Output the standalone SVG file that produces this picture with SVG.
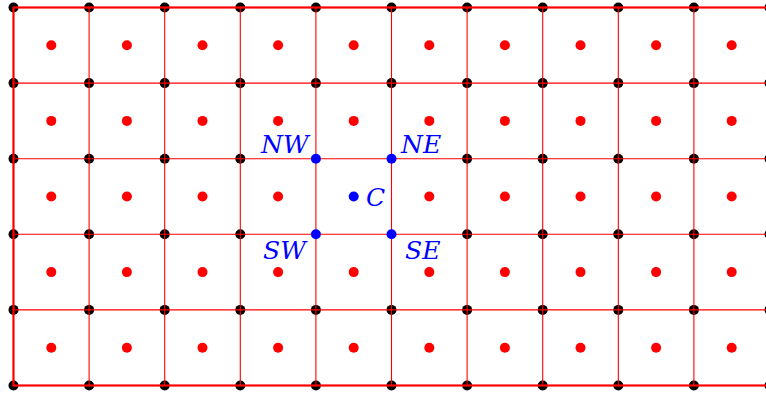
<svg xmlns="http://www.w3.org/2000/svg" width="766" height="395" viewBox="0 0 766 395">
<style>
.k{fill:#000}
.r{fill:#ff0000}
.b{fill:#0000ff}
.g{stroke:#ff0000;stroke-width:1.1;fill:none}
.bd{stroke:#ff0000;stroke-width:2.2;fill:none}
.lbl{font-family:"DejaVu Serif",serif;font-style:italic;font-size:25px;fill:#0000ff}
</style>
<defs>
<circle id="dot" r="5"/>
</defs>
<rect width="766" height="395" fill="#fff"/>
<g id="vertices">
<g id="row0"><use href="#dot" class="k" x="13.5" y="7.5"/><use href="#dot" class="k" x="89.1" y="7.5"/><use href="#dot" class="k" x="164.7" y="7.5"/><use href="#dot" class="k" x="240.3" y="7.5"/><use href="#dot" class="k" x="315.9" y="7.5"/><use href="#dot" class="k" x="391.5" y="7.5"/><use href="#dot" class="k" x="467.1" y="7.5"/><use href="#dot" class="k" x="542.7" y="7.5"/><use href="#dot" class="k" x="618.3" y="7.5"/><use href="#dot" class="k" x="693.9" y="7.5"/><use href="#dot" class="k" x="769.5" y="7.5"/></g>
<g id="row1"><use href="#dot" class="k" x="13.5" y="83.1"/><use href="#dot" class="k" x="89.1" y="83.1"/><use href="#dot" class="k" x="164.7" y="83.1"/><use href="#dot" class="k" x="240.3" y="83.1"/><use href="#dot" class="k" x="315.9" y="83.1"/><use href="#dot" class="k" x="391.5" y="83.1"/><use href="#dot" class="k" x="467.1" y="83.1"/><use href="#dot" class="k" x="542.7" y="83.1"/><use href="#dot" class="k" x="618.3" y="83.1"/><use href="#dot" class="k" x="693.9" y="83.1"/><use href="#dot" class="k" x="769.5" y="83.1"/></g>
<g id="row2"><use href="#dot" class="k" x="13.5" y="158.7"/><use href="#dot" class="k" x="89.1" y="158.7"/><use href="#dot" class="k" x="164.7" y="158.7"/><use href="#dot" class="k" x="240.3" y="158.7"/><use href="#dot" class="k" x="467.1" y="158.7"/><use href="#dot" class="k" x="542.7" y="158.7"/><use href="#dot" class="k" x="618.3" y="158.7"/><use href="#dot" class="k" x="693.9" y="158.7"/><use href="#dot" class="k" x="769.5" y="158.7"/></g>
<g id="row3"><use href="#dot" class="k" x="13.5" y="234.3"/><use href="#dot" class="k" x="89.1" y="234.3"/><use href="#dot" class="k" x="164.7" y="234.3"/><use href="#dot" class="k" x="240.3" y="234.3"/><use href="#dot" class="k" x="467.1" y="234.3"/><use href="#dot" class="k" x="542.7" y="234.3"/><use href="#dot" class="k" x="618.3" y="234.3"/><use href="#dot" class="k" x="693.9" y="234.3"/><use href="#dot" class="k" x="769.5" y="234.3"/></g>
<g id="row4"><use href="#dot" class="k" x="13.5" y="309.9"/><use href="#dot" class="k" x="89.1" y="309.9"/><use href="#dot" class="k" x="164.7" y="309.9"/><use href="#dot" class="k" x="240.3" y="309.9"/><use href="#dot" class="k" x="315.9" y="309.9"/><use href="#dot" class="k" x="391.5" y="309.9"/><use href="#dot" class="k" x="467.1" y="309.9"/><use href="#dot" class="k" x="542.7" y="309.9"/><use href="#dot" class="k" x="618.3" y="309.9"/><use href="#dot" class="k" x="693.9" y="309.9"/><use href="#dot" class="k" x="769.5" y="309.9"/></g>
<g id="row5"><use href="#dot" class="k" x="13.5" y="385.5"/><use href="#dot" class="k" x="89.1" y="385.5"/><use href="#dot" class="k" x="164.7" y="385.5"/><use href="#dot" class="k" x="240.3" y="385.5"/><use href="#dot" class="k" x="315.9" y="385.5"/><use href="#dot" class="k" x="391.5" y="385.5"/><use href="#dot" class="k" x="467.1" y="385.5"/><use href="#dot" class="k" x="542.7" y="385.5"/><use href="#dot" class="k" x="618.3" y="385.5"/><use href="#dot" class="k" x="693.9" y="385.5"/><use href="#dot" class="k" x="769.5" y="385.5"/></g>
</g>
<g id="connectors">
<path class="g" d="M89.1 7.5V385.5M164.7 7.5V385.5M240.3 7.5V385.5M315.9 7.5V385.5M391.5 7.5V385.5M467.1 7.5V385.5M542.7 7.5V385.5M618.3 7.5V385.5M693.9 7.5V385.5M13.5 83.1H769.5M13.5 158.7H769.5M13.5 234.3H769.5M13.5 309.9H769.5"/>
<rect class="bd" x="13.5" y="7.5" width="756" height="378"/>
</g>
<g id="centers">
<g id="crow0"><use href="#dot" class="r" x="51.3" y="45.3"/><use href="#dot" class="r" x="126.9" y="45.3"/><use href="#dot" class="r" x="202.5" y="45.3"/><use href="#dot" class="r" x="278.1" y="45.3"/><use href="#dot" class="r" x="353.7" y="45.3"/><use href="#dot" class="r" x="429.3" y="45.3"/><use href="#dot" class="r" x="504.9" y="45.3"/><use href="#dot" class="r" x="580.5" y="45.3"/><use href="#dot" class="r" x="656.1" y="45.3"/><use href="#dot" class="r" x="731.7" y="45.3"/></g>
<g id="crow1"><use href="#dot" class="r" x="51.3" y="120.9"/><use href="#dot" class="r" x="126.9" y="120.9"/><use href="#dot" class="r" x="202.5" y="120.9"/><use href="#dot" class="r" x="278.1" y="120.9"/><use href="#dot" class="r" x="353.7" y="120.9"/><use href="#dot" class="r" x="429.3" y="120.9"/><use href="#dot" class="r" x="504.9" y="120.9"/><use href="#dot" class="r" x="580.5" y="120.9"/><use href="#dot" class="r" x="656.1" y="120.9"/><use href="#dot" class="r" x="731.7" y="120.9"/></g>
<g id="crow2"><use href="#dot" class="r" x="51.3" y="196.5"/><use href="#dot" class="r" x="126.9" y="196.5"/><use href="#dot" class="r" x="202.5" y="196.5"/><use href="#dot" class="r" x="278.1" y="196.5"/><use href="#dot" class="r" x="429.3" y="196.5"/><use href="#dot" class="r" x="504.9" y="196.5"/><use href="#dot" class="r" x="580.5" y="196.5"/><use href="#dot" class="r" x="656.1" y="196.5"/><use href="#dot" class="r" x="731.7" y="196.5"/></g>
<g id="crow3"><use href="#dot" class="r" x="51.3" y="272.1"/><use href="#dot" class="r" x="126.9" y="272.1"/><use href="#dot" class="r" x="202.5" y="272.1"/><use href="#dot" class="r" x="278.1" y="272.1"/><use href="#dot" class="r" x="353.7" y="272.1"/><use href="#dot" class="r" x="429.3" y="272.1"/><use href="#dot" class="r" x="504.9" y="272.1"/><use href="#dot" class="r" x="580.5" y="272.1"/><use href="#dot" class="r" x="656.1" y="272.1"/><use href="#dot" class="r" x="731.7" y="272.1"/></g>
<g id="crow4"><use href="#dot" class="r" x="51.3" y="347.7"/><use href="#dot" class="r" x="126.9" y="347.7"/><use href="#dot" class="r" x="202.5" y="347.7"/><use href="#dot" class="r" x="278.1" y="347.7"/><use href="#dot" class="r" x="353.7" y="347.7"/><use href="#dot" class="r" x="429.3" y="347.7"/><use href="#dot" class="r" x="504.9" y="347.7"/><use href="#dot" class="r" x="580.5" y="347.7"/><use href="#dot" class="r" x="656.1" y="347.7"/><use href="#dot" class="r" x="731.7" y="347.7"/></g>
</g>
<g id="NW"><use href="#dot" class="b" x="315.9" y="158.7"/><text class="lbl" x="261" y="153">NW</text></g>
<g id="NE"><use href="#dot" class="b" x="391.5" y="158.7"/><text class="lbl" x="401" y="153">NE</text></g>
<g id="SW"><use href="#dot" class="b" x="315.9" y="234.3"/><text class="lbl" x="263" y="259">SW</text></g>
<g id="SE"><use href="#dot" class="b" x="391.5" y="234.3"/><text class="lbl" x="405" y="259">SE</text></g>
<g id="C"><use href="#dot" class="b" x="353.7" y="196.5"/><text class="lbl" x="366" y="206">C</text></g>
</svg>
